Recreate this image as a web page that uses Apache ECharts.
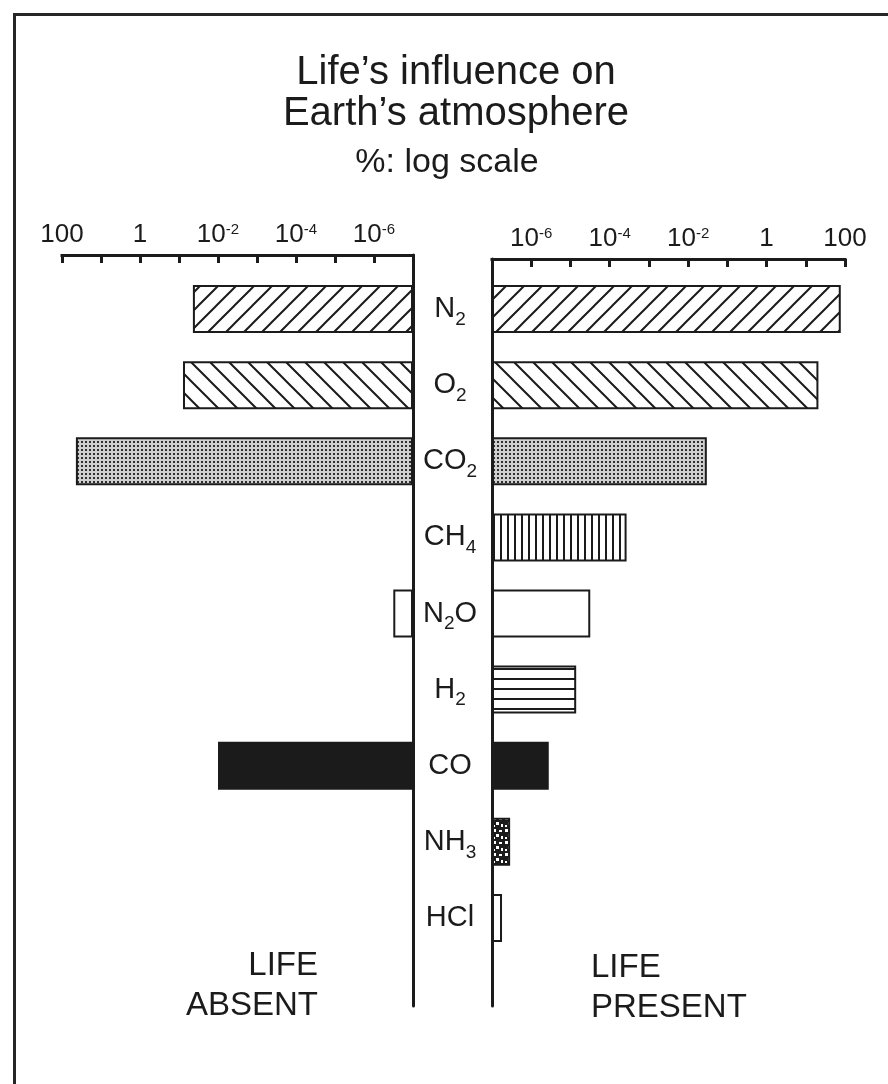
<!DOCTYPE html>
<html><head><meta charset="utf-8">
<script src="https://cdn.jsdelivr.net/npm/echarts@6/dist/echarts.min.js"></script>
<style>html,body{margin:0;padding:0;background:#fff}#c{width:888px;height:1084px}</style>
</head><body><div id="c"></div>
<script>
// ---- data ----
const categories = ['N2', 'O2', 'CO2', 'CH4', 'N2O', 'H2', 'CO', 'NH3', 'HCl'];
const lifeAbsent = [0.044, 0.079, 44, null, 3.2e-7, null, 0.01, null, null];
const lifePresent = [78, 21, 0.03, 2.7e-4, 3.2e-5, 1.4e-5, 2.8e-6, 2.9e-7, 1.8e-7];
const tickExponents = [2, 0, -2, -4, -6];
const tickBase = ['100', '1', '10', '10', '10'];
const tickSup = ['', '', '-2', '-4', '-6'];
const axisMin = 1e-7, axisMax = 100;
const fillKinds = ['fwd', 'back', 'dots', 'vert', 'none', 'horiz', 'solid', 'speckle', 'none'];

// ---- styles ----
const INK = '#1b1b1b';
const FONT = "'Liberation Sans', Arial, Helvetica, sans-serif";

function tile(w, h, bg, draw) {
  const c = document.createElement('canvas');
  c.width = w; c.height = h;
  const ctx = c.getContext('2d');
  ctx.fillStyle = bg; ctx.fillRect(0, 0, w, h);
  ctx.strokeStyle = INK; ctx.fillStyle = INK;
  draw(ctx);
  return { image: c, repeat: 'repeat' };
}
const patterns = {
  fwd: tile(18, 18, '#fff', ctx => {
    ctx.lineWidth = 2;
    ctx.beginPath();
    ctx.moveTo(0, 18); ctx.lineTo(18, 0);
    ctx.moveTo(-3, 3); ctx.lineTo(3, -3);
    ctx.moveTo(15, 21); ctx.lineTo(21, 15);
    ctx.stroke();
  }),
  back: tile(19, 19, '#fff', ctx => {
    ctx.lineWidth = 2;
    ctx.beginPath();
    ctx.moveTo(0, 0); ctx.lineTo(19, 19);
    ctx.moveTo(-3, 16); ctx.lineTo(3, 22);
    ctx.moveTo(16, -3); ctx.lineTo(22, 3);
    ctx.stroke();
  }),
  dots: tile(4, 4, '#cfcfcf', ctx => {
    ctx.fillStyle = '#2e2e2e';
    ctx.fillRect(1, 1, 2, 2);
  }),
  vert: tile(7, 10, '#fff', ctx => { ctx.fillRect(3, 0, 2, 10); }),
  horiz: tile(10, 10, '#fff', ctx => { ctx.fillRect(0, 8, 10, 2); }),
  speckle: tile(12, 12, INK, ctx => {
    ctx.fillStyle = '#fff';
    ctx.fillRect(1, 1, 3, 3); ctx.fillRect(7, 2, 3, 2);
    ctx.fillRect(4, 6, 3, 3); ctx.fillRect(9, 8, 2, 3);
    ctx.fillRect(1, 9, 2, 2);
  }),
  solid: INK,
  none: '#fff'
};

function barData(values) {
  return values.map((v, i) => ({
    value: v,
    itemStyle: { color: patterns[fillKinds[i]] }
  }));
}

function tickFormatter(v) {
  const e = Math.round(Math.log10(v));
  const i = tickExponents.indexOf(e);
  if (i < 0) return '';
  return tickSup[i] ? '{b|' + tickBase[i] + '}{s|' + tickSup[i] + '}' : '{b|' + tickBase[i] + '}';
}
function catFormatter(v) {
  return v.replace(/([A-Za-z]+)|(\d+)/g, (m, a, d) => a ? '{m|' + a + '}' : '{s|' + d + '}');
}

function topAxis(gridIndex, inverse) {
  return {
    type: 'log', logBase: 10, gridIndex, inverse,
    min: axisMin, max: axisMax, splitNumber: 9,
    position: 'top',
    axisLine: { show: true, onZero: false, lineStyle: { color: INK, width: 3, cap: 'square' } },
    axisTick: { show: true, inside: true, length: 8, lineStyle: { color: INK, width: 3 } },
    axisLabel: {
      show: true, margin: 7, formatter: tickFormatter,
      rich: {
        b: { fontSize: 26, fontFamily: FONT, color: INK, lineHeight: 26, verticalAlign: 'bottom' },
        s: { fontSize: 15, fontFamily: FONT, color: INK, lineHeight: 16, verticalAlign: 'top' }
      }
    },
    splitLine: { show: false }, minorTick: { show: false }
  };
}
function hiddenAxis(gridIndex, inverse) {
  return {
    type: 'log', logBase: 10, gridIndex, inverse,
    min: axisMin, max: axisMax, splitNumber: 9, startValue: axisMin,
    axisLine: { show: false }, axisTick: { show: false }, axisLabel: { show: false },
    splitLine: { show: false }
  };
}
function frameYAxis(gridIndex, position) {
  return {
    type: 'value', gridIndex, position, min: 0, max: 1,
    axisLine: { show: true, onZero: false, lineStyle: { color: INK, width: 3 } },
    axisTick: { show: false }, axisLabel: { show: false }, splitLine: { show: false }
  };
}

const chart = echarts.init(document.getElementById('c'), null, { renderer: 'canvas' });
chart.setOption({
  backgroundColor: '#fff',
  animation: false,
  grid: [
    { left: 62, width: 351, top: 255, height: 751 },
    { left: 62, width: 351, top: 271, height: 685 },
    { left: 492, width: 353, top: 259, height: 747 },
    { left: 492, width: 353, top: 271, height: 685 }
  ],
  xAxis: [topAxis(0, true), hiddenAxis(1, true), topAxis(2, false), hiddenAxis(3, false)],
  yAxis: [
    frameYAxis(0, 'right'),
    { type: 'category', gridIndex: 1, data: categories, inverse: true,
      axisLine: { show: false }, axisTick: { show: false }, axisLabel: { show: false } },
    frameYAxis(2, 'left'),
    { type: 'category', gridIndex: 3, data: categories, inverse: true,
      axisLine: { show: false }, axisTick: { show: false },
      axisLabel: {
        show: true, margin: 42, align: 'center', formatter: catFormatter,
        rich: {
          m: { fontSize: 29, fontFamily: FONT, color: INK, lineHeight: 40, verticalAlign: 'middle' },
          s: { fontSize: 19, fontFamily: FONT, color: INK, lineHeight: 19, verticalAlign: 'bottom' }
        }
      } }
  ],
  series: [
    { name: 'Life absent', type: 'bar', xAxisIndex: 1, yAxisIndex: 1, barWidth: 48,
      data: barData(lifeAbsent),
      itemStyle: { borderColor: INK, borderWidth: 2 } },
    { name: 'Life present', type: 'bar', xAxisIndex: 3, yAxisIndex: 3, barWidth: 48,
      data: barData(lifePresent),
      itemStyle: { borderColor: INK, borderWidth: 2 } }
  ],
  graphic: [
    { type: 'polyline', silent: true,
      shape: { points: [[14.5, 1084], [14.5, 14.5], [888, 14.5]] },
      style: { stroke: '#262626', lineWidth: 3, fill: null } },
    { type: 'text', x: 456, y: 52,
      style: { text: 'Life\u2019s influence on\nEarth\u2019s atmosphere', align: 'center', verticalAlign: 'top',
        font: '40px ' + FONT, lineHeight: 41, fill: INK } },
    { type: 'text', x: 447, y: 144,
      style: { text: '%: log scale', align: 'center', verticalAlign: 'top',
        font: '34px ' + FONT, lineHeight: 38, fill: INK } },
    { type: 'text', x: 318, y: 946,
      style: { text: 'LIFE\nABSENT', align: 'right', verticalAlign: 'top',
        font: '33px ' + FONT, lineHeight: 40, fill: INK } },
    { type: 'text', x: 591, y: 948,
      style: { text: 'LIFE\nPRESENT', align: 'left', verticalAlign: 'top',
        font: '33px ' + FONT, lineHeight: 40, fill: INK } }
  ]
});
</script>
</body></html>
